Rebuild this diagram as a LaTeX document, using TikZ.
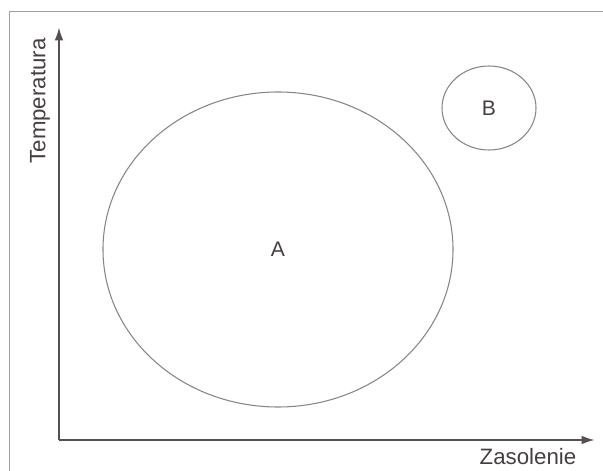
\documentclass[tikz,border=0pt]{standalone}
\usepackage{fontspec}
\setmainfont{Liberation Sans}
\usetikzlibrary{arrows.meta,shapes.geometric}
\definecolor{axisc}{HTML}{554E53}
\definecolor{linec}{HTML}{858585}
\definecolor{framec}{HTML}{A0A0A0}
\definecolor{txt}{HTML}{453F43}

\begin{document}
\begin{tikzpicture}[
  x=0.03cm, y=0.03cm,
  >={Latex[length=4mm,width=2.6mm]},
  axis/.style={draw=axisc, line width=1.9pt},
  blob/.style={ellipse, draw=linec, line width=0.9pt, inner sep=0pt, text=txt, font=\fontsize{18}{21}\selectfont},
  lbl/.style={text=txt, font=\fontsize{19}{22}\selectfont, inner sep=0pt},
]
\useasboundingbox (0,0) rectangle (603,471);
% frame (only left and top edges are visible)
\draw[framec, line width=0.8pt] (9,0) -- (9,460) -- (603,460);

% axes
\coordinate (o) at (59,31);
\coordinate (ytip) at (59,444);
\coordinate (xtip) at (595,31);
\draw[axis, ->] (o) -- (ytip);
\draw[axis, ->] (o) -- (xtip);
\node[lbl, rotate=90] (tlab) at (40,370) {Temperatura};
\node[lbl] (zlab) at (528,14) {Zasolenie};

% regions
\node[blob, minimum width=10.5cm, minimum height=9.45cm] (A) at (278,221.5) {A};
\node[blob, minimum width=2.82cm, minimum height=2.52cm] (B) at (489,363) {B};
\end{tikzpicture}
\end{document}
